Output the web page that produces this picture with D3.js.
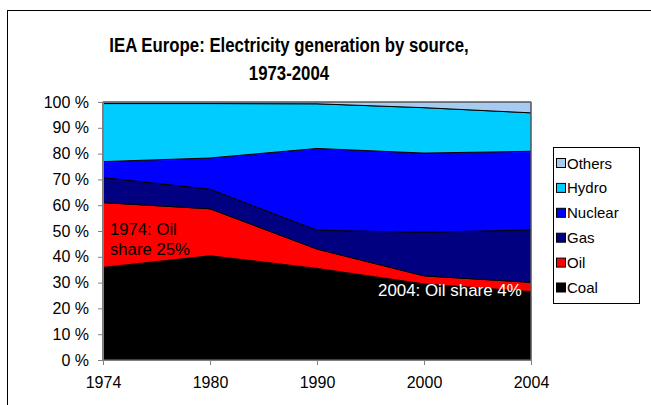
<!DOCTYPE html>
<html>
<head>
<meta charset="utf-8">
<script src="https://cdn.jsdelivr.net/npm/d3@7"></script>
<style>
    body { margin: 0; background: #fff; }
    svg text { font-family: "Liberation Sans", Arial, sans-serif; }
</style>
</head>
<body>
<svg id="chart" width="651" height="405"></svg>
<script>
"use strict";

// percentages (stack order bottom -> top)
const years = ['1974', '1980', '1990', '2000', '2004'];
const coal = [35.9, 40.4, 35.5, 29.5, 26.5];
const oil = [25.1, 18.2, 7.5, 3.1, 3.6];
const gas = [9.7, 7.6, 7.3, 16.9, 20.3];
const nuclear = [6.2, 12.1, 31.7, 30.7, 30.5];
const hydro = [22.5, 21.1, 17.3, 17.6, 14.9];
const others = [0.6, 0.6, 0.7, 2.2, 4.2];
const yTicks = [0, 10, 20, 30, 40, 50, 60, 70, 80, 90, 100];

const sources = ['Coal', 'Oil', 'Gas', 'Nuclear', 'Hydro', 'Others'];
const seriesValues = { Coal: coal, Oil: oil, Gas: gas, Nuclear: nuclear, Hydro: hydro, Others: others };
const colors = { Coal: '#000000', Oil: '#ff0000', Gas: '#000080', Nuclear: '#0000ff', Hydro: '#00ccff', Others: '#a6caf0' };

const svg = d3.select('#chart');

// outer frame
svg.append('rect')
    .attr('x', 7.5).attr('y', 10.5).attr('width', 700).attr('height', 500)
    .attr('fill', 'none').attr('stroke', '#000').attr('stroke-width', 1);

// title (the original font is a condensed-looking Arial, so squeeze it a bit)
const title = svg.append('text')
    .attr('transform', 'translate(289,0) scale(0.8,1)')
    .attr('text-anchor', 'middle')
    .attr('font-size', 21).attr('font-weight', 'bold');
title.append('tspan').attr('x', 0).attr('y', 52).text('IEA Europe: Electricity generation by source,');
title.append('tspan').attr('x', 0).attr('y', 80).text('1973-2004');

const x = d3.scalePoint().domain(years).range([103, 531]);
const y = d3.scaleLinear().domain([0, 100]).range([360, 102]);

const rows = years.map((year, i) => {
    const row = { year };
    for (const s of sources) row[s] = seriesValues[s][i];
    return row;
});
const stacked = d3.stack().keys(sources)(rows);

const area = d3.area()
    .x(d => x(d.data.year))
    .y0(d => y(d[0]))
    .y1(d => y(d[1]));

svg.append('g').selectAll('path')
    .data(stacked)
    .join('path')
    .attr('d', area)
    .attr('fill', d => colors[d.key])
    .attr('stroke', '#000')
    .attr('stroke-width', 1)
    .attr('stroke-linejoin', 'round');

// plot border (right / top)
svg.append('rect')
    .attr('x', 103).attr('y', 102).attr('width', 428).attr('height', 258)
    .attr('fill', 'none').attr('stroke', '#808080').attr('stroke-width', 1);

// axes
const yAxis = svg.append('g')
    .attr('transform', 'translate(103,0)')
    .call(d3.axisLeft(y).tickValues(yTicks).tickSize(5).tickPadding(9).tickFormat(d => d + ' %'));
const xAxis = svg.append('g')
    .attr('transform', 'translate(0,360)')
    .call(d3.axisBottom(x).tickSize(5).tickPadding(12));
for (const g of [yAxis, xAxis]) {
    g.select('.domain').attr('stroke', '#808080');
    g.selectAll('.tick line').attr('stroke', '#808080');
    g.selectAll('.tick text').attr('font-size', 16).attr('fill', '#000')
        .attr('font-family', '"Liberation Sans", Arial, sans-serif');
}

// annotations
const note1 = svg.append('text').attr('font-size', 16.7).attr('fill', '#000');
note1.append('tspan').attr('x', 110).attr('y', 235).text('1974: Oil');
note1.append('tspan').attr('x', 110).attr('y', 255).text('share 25%');
svg.append('text')
    .attr('x', 378).attr('y', 296)
    .attr('font-size', 16.9).attr('fill', '#fff')
    .text('2004: Oil share 4%');

// legend
const legend = svg.append('g');
legend.append('rect')
    .attr('x', 553.5).attr('y', 147.5).attr('width', 86).attr('height', 156)
    .attr('fill', '#fff').attr('stroke', '#000').attr('stroke-width', 1);
const legendOrder = sources.slice().reverse();
const item = legend.selectAll('g.item')
    .data(legendOrder)
    .join('g')
    .attr('class', 'item')
    .attr('transform', (d, i) => `translate(556, ${163 + i * 24.9})`);
item.append('rect')
    .attr('x', 0.5).attr('y', -4.5).attr('width', 9).attr('height', 9)
    .attr('fill', d => colors[d]).attr('stroke', '#000').attr('stroke-width', 1);
item.append('text')
    .attr('x', 11).attr('y', 5.5)
    .attr('font-size', 15)
    .text(d => d);
</script>
</body>
</html>
